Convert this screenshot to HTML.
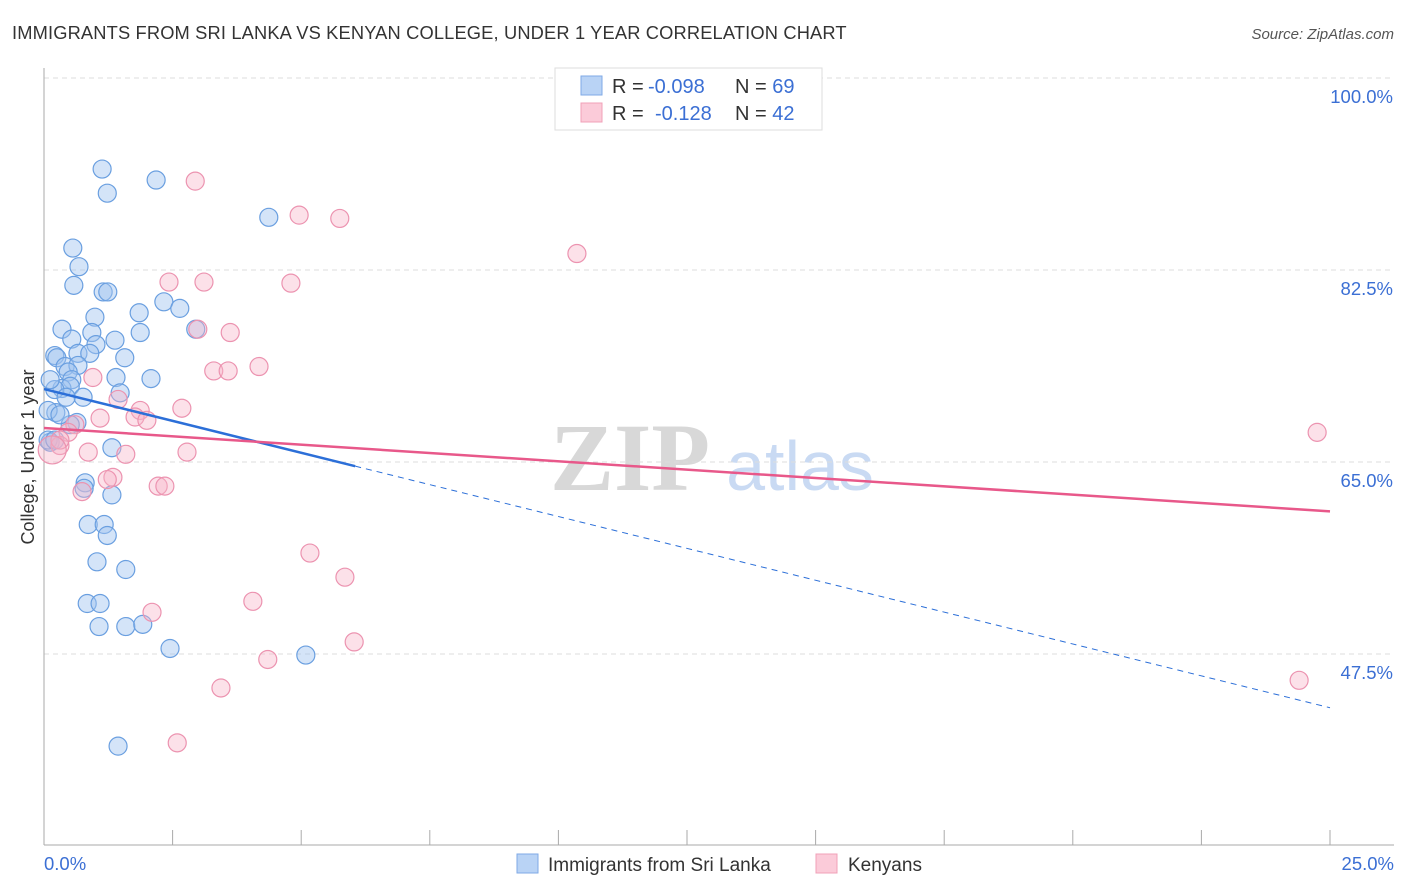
<!DOCTYPE html>
<html><head><meta charset="utf-8"><style>
body{margin:0;background:#fff;font-family:"Liberation Sans",sans-serif}
svg{display:block}
</style></head><body>
<svg id="chart" width="1406" height="892" font-family="Liberation Sans, sans-serif">
<text x="12" y="39" font-size="18.3" letter-spacing="0.15" fill="#333">IMMIGRANTS FROM SRI LANKA VS KENYAN COLLEGE, UNDER 1 YEAR CORRELATION CHART</text>
<text x="1394" y="39" font-size="15" fill="#555" font-style="italic" text-anchor="end">Source: ZipAtlas.com</text>
<g>
<text x="630" y="490" font-size="96" fill="#d8d8d8" text-anchor="middle" font-family="Liberation Serif, serif" font-weight="bold">ZIP</text>
<text x="800" y="490" font-size="70" fill="#c9daf3" text-anchor="middle">atlas</text>
</g>
<g id="grid"></g>
<g id="axes"></g>
<g id="points"></g>
<g id="trends"></g>
<text transform="translate(34,457) rotate(-90)" font-size="18" fill="#333" text-anchor="middle">College, Under 1 year</text>
<g>
<rect x="555" y="68" width="267" height="62" fill="#fff" stroke="#ddd"/>
<rect x="581" y="76" width="21" height="19" fill="#b9d3f5" stroke="#7fa9e6"/>
<rect x="581" y="103" width="21" height="19" fill="#fbcbd9" stroke="#f0a0b8"/>
<text x="612" y="93" font-size="20" fill="#333">R = <tspan x="648" fill="#3b6fd4">-0.098</tspan><tspan x="735">N = </tspan><tspan fill="#3b6fd4">69</tspan></text>
<text x="612" y="120" font-size="20" fill="#333">R = <tspan x="655" fill="#3b6fd4">-0.128</tspan><tspan x="735">N = </tspan><tspan fill="#3b6fd4">42</tspan></text>
</g>
<g>
<rect x="517" y="854" width="21" height="19" fill="#b9d3f5" stroke="#7fa9e6"/>
<text x="548" y="871" font-size="19" fill="#333">Immigrants from Sri Lanka</text>
<rect x="816" y="854" width="21" height="19" fill="#fbcbd9" stroke="#f0a0b8"/>
<text x="848" y="871" font-size="19" fill="#333">Kenyans</text>
</g>
</svg>
<script>
const yTicks=[47.5,65.0,82.5,100.0];
const xTickLabels=["0.0%","25.0%"];
const blueX=[1.13,2.18,1.23,4.37,0.56,0.68,0.58,1.15,1.24,2.33,2.64,1.85,0.99,0.35,0.93,1.87,2.95,0.54,1.38,1.01,0.21,0.66,0.89,0.25,1.57,0.41,0.66,0.47,1.40,2.08,0.54,0.35,0.51,1.48,0.21,0.76,0.43,0.23,0.64,0.51,0.12,1.32,0.80,0.78,1.32,0.86,1.17,1.23,1.03,1.59,0.84,1.09,1.07,1.59,1.92,2.45,5.09,1.44,0.08,0.21,0.12,0.08,0.31];
const blueY=[91.7,90.7,89.5,87.3,84.5,82.8,81.1,80.5,80.5,79.6,79.0,78.6,78.2,77.1,76.8,76.8,77.1,76.2,76.1,75.7,74.7,74.9,74.9,74.5,74.5,73.7,73.8,73.2,72.7,72.6,72.5,71.7,71.9,71.3,71.6,70.9,70.9,69.5,68.6,68.4,66.8,66.3,63.1,62.6,62.0,59.3,59.3,58.3,55.9,55.2,52.1,52.1,50.0,50.0,50.2,48.0,47.4,39.1,67.0,67.0,72.5,69.7,69.3];
const pinkX=[2.94,4.96,5.75,10.36,2.43,3.11,4.80,2.99,3.62,4.18,3.30,3.58,0.95,1.44,2.68,1.87,1.77,2.00,1.09,0.60,0.47,0.31,0.86,1.59,2.78,1.34,1.23,2.22,2.35,0.74,5.17,5.85,2.10,4.06,6.03,4.35,3.44,2.59,24.75,24.40,0.31];
const pinkY=[90.6,87.5,87.2,84.0,81.4,81.4,81.3,77.1,76.8,73.7,73.3,73.3,72.7,70.7,69.9,69.7,69.1,68.8,69.0,68.4,67.7,66.5,65.9,65.7,65.9,63.6,63.4,62.8,62.8,62.3,56.7,54.5,51.3,52.3,48.6,47.0,44.4,39.4,67.7,45.1,67.0];
const bigX=[0.16];const bigY=[66.1];
const blueTrend=[71.65,-1.162,6.05];
const pinkTrend=[68.1,-0.304];
const NS="http://www.w3.org/2000/svg";
const X=v=>44+v/25*1286;
const Y=v=>78+(100-v)*10.971;
function mk(t,a,p){const e=document.createElementNS(NS,t);for(const k in a)e.setAttribute(k,a[k]);document.getElementById(p).appendChild(e);return e;}
yTicks.forEach(t=>{
 const g=mk('line',{x1:44,x2:1394,y1:Y(t),y2:Y(t),stroke:'#ddd','stroke-dasharray':'5,4'},'grid');
 
 
 const l=mk('text',{x:1393,y:Y(t)+25,'font-size':18.5,fill:'#3b6fd4','text-anchor':'end'},'grid');
 l.textContent=t.toFixed(1)+'%';
 
 
});
const ya=mk('line',{x1:44,x2:44,y1:68,y2:845,stroke:'#aaa'},'axes');


const xa=mk('line',{x1:44,x2:1394,y1:845,y2:845,stroke:'#aaa'},'axes');


for(let i=0;i<=10;i++){const t=mk('line',{x1:X(i*2.5),x2:X(i*2.5),y1:830,y2:845,stroke:'#aaa'},'axes');
 
 }
[[0,'start',44],[25,'end',1394]].forEach((d,i)=>{const t=mk('text',{x:d[2],y:870,'font-size':18.5,fill:'#3b6fd4','text-anchor':d[1]},'axes');t.textContent=xTickLabels[i];
 
 });
function pts(xs,ys,fill,stroke,name,r){xs.forEach((x,i)=>{const c=mk('circle',{cx:X(x),cy:Y(ys[i]),r:r,fill:fill,stroke:stroke,'stroke-width':1.2},'points');
 
 });}
pts(blueX,blueY,'rgba(160,196,240,0.45)','#6a9fe0','sri-lanka-point',9);
pts(pinkX,pinkY,'rgba(248,180,200,0.4)','#ec93b0','kenyan-point',9);
pts(bigX,bigY,'rgba(248,180,200,0.4)','#ec93b0','kenyan-point-large',14);
const bs=mk('line',{x1:X(0),y1:Y(blueTrend[0]),x2:X(blueTrend[2]),y2:Y(blueTrend[0]+blueTrend[1]*blueTrend[2]),stroke:'#2c6fd8','stroke-width':2.5},'trends');


const bd=mk('line',{x1:X(blueTrend[2]),y1:Y(blueTrend[0]+blueTrend[1]*blueTrend[2]),x2:X(25),y2:Y(blueTrend[0]+blueTrend[1]*25),stroke:'#2c6fd8','stroke-width':1,'stroke-dasharray':'6,5'},'trends');


const pt=mk('line',{x1:X(0),y1:Y(pinkTrend[0]),x2:X(25),y2:Y(pinkTrend[0]+pinkTrend[1]*25),stroke:'#e8588a','stroke-width':2.5},'trends');


</script>
</body></html>
